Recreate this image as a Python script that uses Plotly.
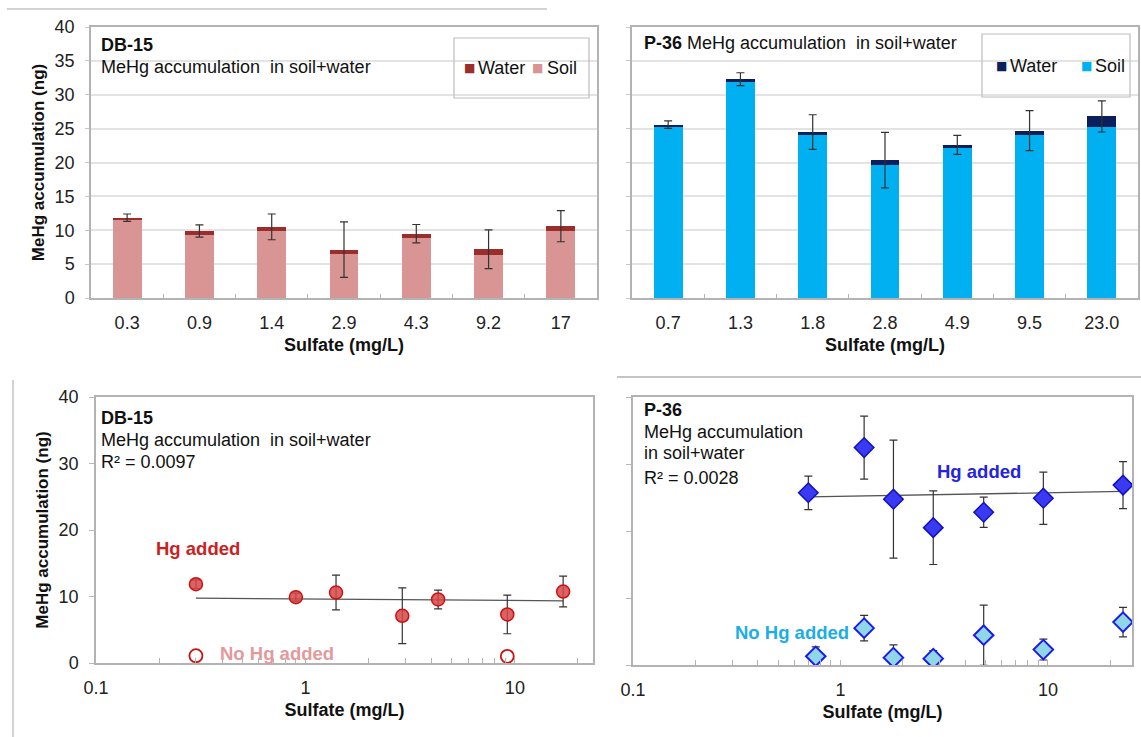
import plotly.graph_objects as go
import numpy as np

# ---------------- data ----------------
# Top-left: DB-15 stacked bars
db_cats = ['0.3', '0.9', '1.4', '2.9', '4.3', '9.2', '17']
db_soil = [11.45, 9.3, 9.9, 6.45, 8.85, 6.4, 9.9]
db_water = [0.4, 0.6, 0.6, 0.7, 0.65, 0.8, 0.7]
db_bar_err = [0.55, 0.9, 1.9, 4.1, 1.35, 2.85, 2.3]

# Top-right: P-36 stacked bars
p36_cats = ['0.7', '1.3', '1.8', '2.8', '4.9', '9.5', '23.0']
p36_soil = [25.3, 31.9, 24.1, 19.7, 22.2, 24.0, 25.25]
p36_water = [0.3, 0.4, 0.4, 0.65, 0.4, 0.7, 1.55]
p36_bar_err = [0.55, 0.95, 2.55, 4.1, 1.4, 2.95, 2.3]

# Bottom-left: DB-15 scatter
db_sulfate = [0.3, 0.9, 1.4, 2.9, 4.3, 9.2, 17]
db_hg = [11.85, 9.9, 10.6, 7.1, 9.55, 7.3, 10.75]
db_hg_err = [0.65, 0.6, 2.6, 4.2, 1.4, 2.9, 2.3]
db_nohg_sulfate = [0.3, 9.2]
db_nohg = [1.1, 1.0]
db_trend_x = [0.3, 17]
db_trend_y = [9.75, 9.35]

# Bottom-right: P-36 scatter
p36_sulfate = [0.7, 1.3, 1.8, 2.8, 4.9, 9.5, 23.0]
p36_hg = [25.7, 32.45, 24.75, 20.5, 22.8, 24.9, 26.85]
p36_hg_err = [2.5, 4.7, 8.8, 5.5, 2.25, 3.9, 3.5]
p36_nohg_sulfate = [0.76, 1.3, 1.8, 2.8, 4.9, 9.5, 23.0]
p36_nohg = [1.3, 5.5, 1.1, 0.95, 4.45, 2.3, 6.4]
p36_nohg_err = [1.4, 1.9, 1.9, 1.2, 4.5, 1.55, 2.2]
p36_trend_x = [0.7, 23.0]
p36_trend_y = [25.1, 25.9]

y_ticks_top = [0, 5, 10, 15, 20, 25, 30, 35, 40]
y_ticks_bottom = [0, 10, 20, 30, 40]
log_ticks = [0.1, 1, 10]
log_ticktext = ['0.1', '1', '10']

# ---------------- layout helpers ----------------
W, H = 1141, 737
FONT = 'Liberation Sans, Arial, sans-serif'


def fx(p):
    return p / W


def fy(p):
    return 1 - p / H


SOIL_DB = '#d99594'
WATER_DB = '#9b2d2a'
SOIL_P = '#00b0f0'
WATER_P = '#0b1f5c'
ERR = '#333333'
FRAME = '#b3b3b3'
TICKC = '#222222'

fig = go.Figure()

# ---- Top-left bars ----
fig.add_trace(go.Bar(x=db_cats, y=db_soil, name='Soil', marker_color=SOIL_DB,
                     marker_line_width=0, width=0.4, xaxis='x', yaxis='y'))
fig.add_trace(go.Bar(x=db_cats, y=db_water, name='Water', marker_color=WATER_DB,
                     marker_line_width=0, width=0.4, xaxis='x', yaxis='y'))
db_total = np.array(db_soil) + np.array(db_water)
fig.add_trace(go.Scatter(x=db_cats, y=db_total, mode='markers',
                         marker=dict(opacity=0, size=2),
                         error_y=dict(type='data', array=db_bar_err, color=ERR,
                                      thickness=1.2, width=4),
                         xaxis='x', yaxis='y', hoverinfo='skip'))

# ---- Top-right bars ----
fig.add_trace(go.Bar(x=p36_cats, y=p36_soil, name='Soil', marker_color=SOIL_P,
                     marker_line_width=0, width=0.4, xaxis='x2', yaxis='y2'))
fig.add_trace(go.Bar(x=p36_cats, y=p36_water, name='Water', marker_color=WATER_P,
                     marker_line_width=0, width=0.4, xaxis='x2', yaxis='y2'))
p36_total = np.array(p36_soil) + np.array(p36_water)
fig.add_trace(go.Scatter(x=p36_cats, y=p36_total, mode='markers',
                         marker=dict(opacity=0, size=2),
                         error_y=dict(type='data', array=p36_bar_err, color=ERR,
                                      thickness=1.2, width=4),
                         xaxis='x2', yaxis='y2', hoverinfo='skip'))

# ---- Bottom-left scatter ----
fig.add_trace(go.Scatter(x=db_trend_x, y=db_trend_y, mode='lines',
                         line=dict(color='#555555', width=1.3),
                         xaxis='x3', yaxis='y3'))
fig.add_trace(go.Scatter(x=db_sulfate, y=db_hg, mode='markers',
                         marker=dict(symbol='circle', size=13,
                                     color='rgba(214,72,72,0.85)',
                                     line=dict(color='#cc1111', width=1.5)),
                         error_y=dict(type='data', array=db_hg_err, color=ERR,
                                      thickness=1.2, width=4),
                         xaxis='x3', yaxis='y3'))
fig.add_trace(go.Scatter(x=db_nohg_sulfate, y=db_nohg, mode='markers',
                         marker=dict(symbol='circle', size=13, color='white',
                                     line=dict(color='#cc1111', width=1.8)),
                         xaxis='x3', yaxis='y3'))

# ---- Bottom-right scatter ----
fig.add_trace(go.Scatter(x=p36_trend_x, y=p36_trend_y, mode='lines',
                         line=dict(color='#555555', width=1.3),
                         xaxis='x4', yaxis='y4'))
fig.add_trace(go.Scatter(x=p36_sulfate, y=p36_hg, mode='markers',
                         marker=dict(symbol='diamond', size=15, color='#3a3af0',
                                     line=dict(color='#1010c8', width=1.5)),
                         error_y=dict(type='data', array=p36_hg_err, color=ERR,
                                      thickness=1.2, width=4),
                         xaxis='x4', yaxis='y4'))
fig.add_trace(go.Scatter(x=p36_nohg_sulfate, y=p36_nohg, mode='markers',
                         marker=dict(symbol='diamond', size=15, color='#8fd6e6',
                                     line=dict(color='#1a1aee', width=2)),
                         error_y=dict(type='data', array=p36_nohg_err, color=ERR,
                                      thickness=1.2, width=4),
                         xaxis='x4', yaxis='y4'))

# ---------------- axes ----------------
tickfont = dict(family=FONT, size=18, color=TICKC)
titlefont = dict(family=FONT, size=18, color='#111111', weight='bold')

cat_x = dict(type='category', showline=True, mirror=True, linecolor=FRAME, linewidth=1.5,
             ticks='inside', tickson='boundaries', ticklen=4, tickcolor=FRAME,
             tickfont=tickfont, ticklabelstandoff=8, showgrid=False, automargin=False,
             title=dict(text='Sulfate (mg/L)', font=titlefont, standoff=6),
             zeroline=False)
top_y = dict(range=[0, 40], tickvals=y_ticks_top, showline=True, mirror=True,
             linecolor=FRAME, linewidth=1.5, showgrid=True, gridcolor='#e3e3e3',
             gridwidth=1.5, ticks='outside', ticklen=4, tickcolor='#c8c8c8',
             tickfont=tickfont, zeroline=False, ticklabelstandoff=7, automargin=False)
log_x = dict(type='log', tickvals=log_ticks, ticktext=log_ticktext, showline=True,
             mirror=True, linecolor=FRAME, linewidth=1.5, showgrid=False,
             ticks='inside', ticklen=5, tickcolor=FRAME, tickfont=tickfont,
             ticklabelstandoff=8, zeroline=False, automargin=False,
             minor=dict(ticks='inside', ticklen=5, tickcolor=FRAME, dtick='D1',
                        showgrid=False),
             title=dict(text='Sulfate (mg/L)', font=titlefont, standoff=6))
bot_y = dict(range=[0, 40], tickvals=y_ticks_bottom, showline=True, mirror=True,
             linecolor=FRAME, linewidth=1.5, showgrid=False, ticks='outside',
             ticklen=5, tickcolor='#b8b8b8', tickfont=tickfont, zeroline=False,
             ticklabelstandoff=7, automargin=False)

ytitle = dict(text='MeHg accumulation (ng)', font=dict(family=FONT, size=17,
                                                       color='#111111', weight='bold'),
              standoff=6)

fig.update_layout(
    width=W, height=H, margin=dict(l=0, r=0, t=0, b=0, autoexpand=False),
    paper_bgcolor='white', plot_bgcolor='white', barmode='stack',
    font=dict(family=FONT, color='#111111'), showlegend=False,
    xaxis=dict(cat_x, domain=[fx(91), fx(597)], anchor='y'),
    yaxis=dict(top_y, domain=[fy(298), fy(27)], anchor='x', title=ytitle),
    xaxis2=dict(cat_x, domain=[fx(632), fx(1138)], anchor='y2'),
    yaxis2=dict(top_y, domain=[fy(298), fy(27)], anchor='x2', showticklabels=False),
    xaxis3=dict(log_x, domain=[fx(96), fx(593)], anchor='y3', range=[-1, 1.373]),
    yaxis3=dict(bot_y, domain=[fy(663), fy(397)], anchor='x3', title=ytitle),
    xaxis4=dict(log_x, domain=[fx(633), fx(1132)], anchor='y4', range=[-1, 1.405]),
    yaxis4=dict(bot_y, domain=[fy(665), fy(397)], anchor='x4', showticklabels=False),
)

# ---------------- decorative shapes ----------------
shapes = [
    dict(type='line', xref='paper', yref='paper', x0=fx(7), x1=fx(547), y0=fy(9), y1=fy(9),
         line=dict(color='#c4c4c4', width=1.5)),
    dict(type='line', xref='paper', yref='paper', x0=fx(13), x1=fx(13), y0=fy(380), y1=fy(737),
         line=dict(color='#c4c4c4', width=1.5)),
    dict(type='line', xref='paper', yref='paper', x0=fx(617), x1=fx(1141), y0=fy(377), y1=fy(377),
         line=dict(color='#c4c4c4', width=2)),
    dict(type='rect', xref='paper', yref='paper', x0=fx(454), x1=fx(589), y0=fy(98), y1=fy(38),
         line=dict(color='#bdbdbd', width=1.2), fillcolor='rgba(0,0,0,0)'),
    dict(type='rect', xref='paper', yref='paper', x0=fx(982), x1=fx(1130), y0=fy(97), y1=fy(34),
         line=dict(color='#bdbdbd', width=1.2), fillcolor='rgba(0,0,0,0)'),
]
fig.update_layout(shapes=shapes)


# ---------------- text annotations ----------------
def txt(text, x, y, size=18, color='#111111', bold=False, xanchor='left'):
    t = f'<b>{text}</b>' if bold else text
    return dict(text=t, x=fx(x), y=fy(y), xref='paper', yref='paper', xanchor=xanchor,
                yanchor='middle', showarrow=False,
                font=dict(family=FONT, size=size, color=color))


def swatch(x, y, color):
    return dict(text='■', x=fx(x), y=fy(y), xref='paper', yref='paper', xanchor='center',
                yanchor='middle', showarrow=False,
                font=dict(family='DejaVu Sans', size=12, color=color))


ann = [
    txt('DB-15', 99, 45, bold=True),
    txt('MeHg accumulation  in soil+water', 99, 67),
    txt('<b>P-36</b> MeHg accumulation  in soil+water', 642, 43),
    txt('DB-15', 99, 418, bold=True),
    txt('MeHg accumulation  in soil+water', 99, 440),
    txt('R² = 0.0097', 99, 462),
    txt('P-36', 642, 410, bold=True),
    txt('MeHg accumulation', 642, 432),
    txt('in soil+water', 642, 453),
    txt('R² = 0.0028', 642, 478),
    txt('Hg added', 154, 548, size=18.5, color='#cc1f1f', bold=True),
    txt('No Hg added', 218, 653, size=18.5, color='#e39a9a', bold=True),
    txt('Hg added', 935, 471, size=18.5, color='#2424e0', bold=True),
    txt('No Hg added', 733, 632, size=18.5, color='#1aaee8', bold=True),
    # legends
    swatch(469, 68, WATER_DB), txt('Water', 476, 68),
    swatch(537, 68, SOIL_DB), txt('Soil', 545, 68),
    swatch(1001, 66, WATER_P), txt('Water', 1008, 66),
    swatch(1086, 66, SOIL_P), txt('Soil', 1093, 66),
]
fig.update_layout(annotations=ann)

fig.write_html('out.html')
